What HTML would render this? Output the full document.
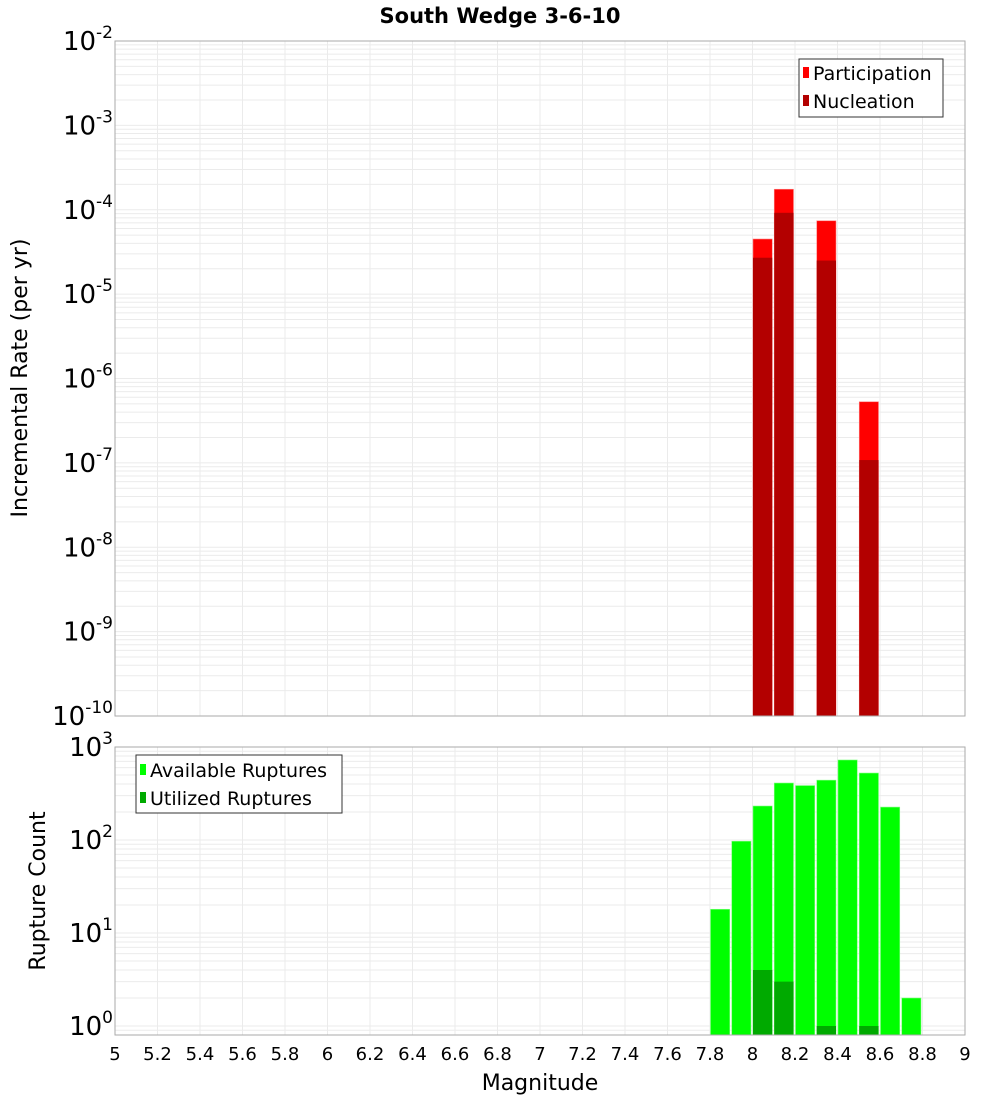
<!DOCTYPE html>
<html><head><meta charset="utf-8"><style>
body{margin:0;background:#fff;}
svg{display:block;font-family:"DejaVu Sans","Liberation Sans",sans-serif;}
</style></head><body>
<svg id="chart" width="1000" height="1100" viewBox="0 0 1000 1100" xmlns="http://www.w3.org/2000/svg">
<text x="500" y="23" text-anchor="middle" font-size="21" font-weight="bold">South Wedge 3-6-10</text>
<g id="topg"></g><g id="botg"></g>
<text transform="translate(27,378) rotate(-90)" text-anchor="middle" font-size="22">Incremental Rate (per yr)</text>
<text transform="translate(45,891) rotate(-90)" text-anchor="middle" font-size="22">Rupture Count</text>
<text x="540" y="1090" text-anchor="middle" font-size="22">Magnitude</text>
<g>
<rect x="799" y="59" width="144" height="58" fill="#fff" stroke="#333"/>
<rect x="803" y="67" width="6" height="11" fill="#ff0000"/>
<text x="813" y="80" font-size="19">Participation</text>
<rect x="803" y="95" width="6" height="11" fill="#b30000"/>
<text x="813" y="108" font-size="19">Nucleation</text>
</g>
<g>
<rect x="136" y="755" width="206" height="58" fill="#fff" stroke="#333"/>
<rect x="140" y="764" width="6" height="11" fill="#00ff00"/>
<text x="150" y="777" font-size="19">Available Ruptures</text>
<rect x="140" y="792" width="6" height="11" fill="#00aa00"/>
<text x="150" y="805" font-size="19">Utilized Ruptures</text>
</g>
</svg>
<script>
const mags = [8.05, 8.15, 8.35, 8.55];
const participation = [4.5e-5, 1.75e-4, 7.4e-5, 5.3e-7];
const nucleation = [2.7e-5, 9.2e-5, 2.5e-5, 1.08e-7];
const countMags = [7.85, 7.95, 8.05, 8.15, 8.25, 8.35, 8.45, 8.55, 8.65, 8.75];
const available = [18, 97, 232, 410, 385, 440, 725, 525, 226, 2];
const utilized = [0, 0, 4, 3, 0, 1, 0, 1, 0, 0];
const xTicks = [5,5.2,5.4,5.6,5.8,6,6.2,6.4,6.6,6.8,7,7.2,7.4,7.6,7.8,8,8.2,8.4,8.6,8.8,9];
const topExps = [-2,-3,-4,-5,-6,-7,-8,-9,-10];
const botExps = [3,2,1,0];

const NS = "http://www.w3.org/2000/svg";
const L = 115, R = 965;
const x = m => L + (m - 5) / 4 * (R - L);
const yTop = v => 41 + (-2 - Math.log10(v)) * 84.375;
const yBot = v => 1026 - Math.log10(v) * 93;
function mk(parent, tag, attrs){const e=document.createElementNS(NS,tag);for(const k in attrs)e.setAttribute(k,attrs[k]);parent.appendChild(e);return e;}

function panel(g, y0, y1, yf, eMin, eMax){
  mk(g,'rect',{x:L,y:y0,width:R-L,height:y1-y0,fill:'#fff'});
  for(let e=eMin-1;e<=eMax;e++){for(let k=1;k<10;k++){const yy=yf(k*Math.pow(10,e));if(yy>=y0&&yy<=y1)mk(g,'line',{x1:L,x2:R,y1:yy,y2:yy,stroke:'#ebebeb','stroke-width':1});}}
  xTicks.forEach(t=>mk(g,'line',{x1:x(t),x2:x(t),y1:y0,y2:y1,stroke:'#ebebeb','stroke-width':1}));
}
const topG = document.getElementById('topg');


panel(topG,41,716,yTop,-10,-2);
const bw = (x(5.1)-x(5)) - 2;
mags.forEach((m,i)=>{
  const b=mk(topG,'rect',{x:x(m-0.05)+0.5,y:yTop(participation[i]),width:bw,height:716-yTop(participation[i]),fill:'#ff0000',stroke:'#ff8080','stroke-width':0.6});
  
  
  const n=mk(topG,'rect',{x:x(m-0.05)+0.5,y:yTop(nucleation[i]),width:bw,height:716-yTop(nucleation[i]),fill:'#b30000'});
  
  
});
mk(topG,'rect',{x:L,y:41,width:R-L,height:675,fill:'none',stroke:'#aaa'});
topExps.forEach(e=>{
  const yy=yTop(Math.pow(10,e));
  const t=mk(topG,'text',{x:L-2,y:yy+9,'text-anchor':'end','font-size':26});
  
  
  t.innerHTML='10<tspan dy="-12" font-size="17">'+e+'</tspan>';
});

const botG = document.getElementById('botg');


panel(botG,747,1035,yBot,0,3);
countMags.forEach((m,i)=>{
  const a=mk(botG,'rect',{x:x(m-0.05)+0.5,y:yBot(available[i]),width:bw,height:1035-yBot(available[i]),fill:'#00ff00',stroke:'#80ff80','stroke-width':0.6});
  
  
  if(utilized[i]>0){
    const u=mk(botG,'rect',{x:x(m-0.05)+0.5,y:yBot(utilized[i]),width:bw,height:1035-yBot(utilized[i]),fill:'#00aa00'});
    
    
  }
});
mk(botG,'rect',{x:L,y:747,width:R-L,height:288,fill:'none',stroke:'#aaa'});
botExps.forEach(e=>{
  const yy=yBot(Math.pow(10,e));
  const t=mk(botG,'text',{x:L-2,y:yy+9,'text-anchor':'end','font-size':26});
  
  
  t.innerHTML='10<tspan dy="-12" font-size="17">'+e+'</tspan>';
});
xTicks.forEach(v=>{
  const t=mk(botG,'text',{x:x(v),y:1060,'text-anchor':'middle','font-size':18});
  
  
  t.textContent=String(v);
});
</script>
</body></html>
